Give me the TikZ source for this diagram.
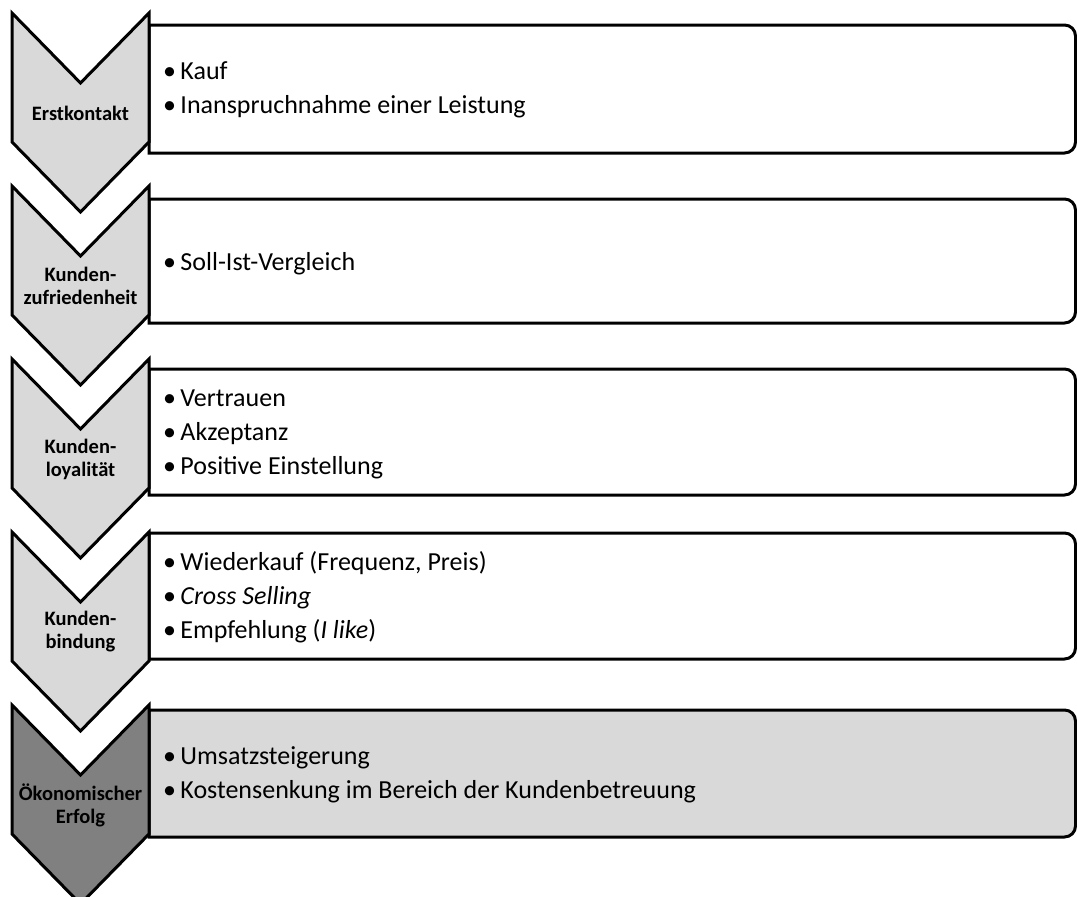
\documentclass[tikz,border=0pt]{standalone}
\usepackage{fontspec}
\setmainfont{Carlito}
\begin{document}
\begin{tikzpicture}[x=1pt,y=-1pt,line join=miter,
  outline/.style={draw=black,line width=3pt},
  stagebox/.style={outline,fill=white},
  lightchev/.style={outline,fill=chevlight},
  darkchev/.style={outline,fill=chevdark},
  stagelabel/.style={font=\fontsize{20.5}{23}\selectfont\bfseries,align=center,inner sep=0pt},
  itemtext/.style={font=\fontsize{26}{34}\selectfont,align=left,anchor=west,inner sep=0pt}]
\definecolor{chevlight}{HTML}{D9D9D9}
\definecolor{chevdark}{HTML}{808080}
\useasboundingbox (0,0) rectangle (1077,897);
\fill[white] (0,0) rectangle (1077,897);

% box with square left corners and rounded right corners: #1 top, #2 bottom
\newcommand{\stagebox}[3]{%
  \path[#3] (149,#2) -- (149,#1) [rounded corners=11pt] -- (1075.5,#1) -- (1075.5,#2) [sharp corners] -- cycle;}
% chevron: #1 top corners, #2 bottom corners
\newcommand{\chevron}[3]{%
  \path[#3] (12,#1) -- (80.5,#1+70) -- (149,#1) -- (149,#2) -- (80.5,#2+70) -- (12,#2) -- cycle;}

\stagebox{25}{153}{stagebox}
\stagebox{199}{323}{stagebox}
\stagebox{369}{495}{stagebox}
\stagebox{533}{659}{stagebox}
\stagebox{710}{837}{stagebox,fill=chevlight}

\chevron{13}{142}{lightchev}
\chevron{186}{315}{lightchev}
\chevron{359}{488}{lightchev}
\chevron{532}{661}{lightchev}
\chevron{705}{834}{darkchev}

\node[stagelabel] (s1) at (80.5,113) {Erstkontakt};
\node[stagelabel] (s2) at (80.5,286) {Kunden-\\zufriedenheit};
\node[stagelabel] (s3) at (80.5,459) {Kunden-\\loyalität};
\node[stagelabel] (s4) at (80.5,632) {Kunden-\\bindung};
\node[stagelabel] (s5) at (80.5,805) {Ökonomischer\\Erfolg};

\node[itemtext] (t1) at (163,90) {•\,Kauf\\•\,Inanspruchnahme einer Leistung};
\node[itemtext] (t2) at (163,264) {•\,Soll-Ist-Vergleich};
\node[itemtext] (t3) at (163,434) {•\,Vertrauen\\•\,Akzeptanz\\•\,Positive Einstellung};
\node[itemtext] (t4) at (163,597) {•\,Wiederkauf (Frequenz, Preis)\\•\,\textit{Cross Selling}\\•\,Empfehlung (\textit{I like})};
\node[itemtext] (t5) at (163,775) {•\,Umsatzsteigerung\\•\,Kostensenkung im Bereich der Kundenbetreuung};
\end{tikzpicture}
\end{document}
